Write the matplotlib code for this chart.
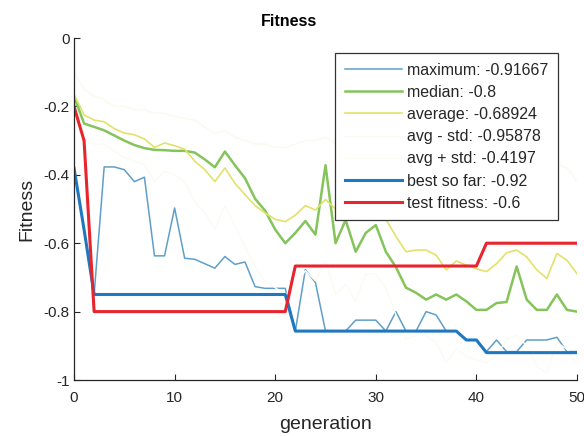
import matplotlib
matplotlib.use('Agg')
import matplotlib.pyplot as plt
import numpy as np

plt.rcParams['font.family'] = ['Liberation Sans', 'DejaVu Sans']

# generation index and per-generation statistics
generation = np.arange(51)

maximum = [-0.38, -0.56, -0.75, -0.377, -0.377, -0.385, -0.42, -0.407, -0.637, -0.637,
           -0.497, -0.644, -0.647, -0.66, -0.673, -0.639, -0.662, -0.655, -0.727, -0.732,
           -0.732, -0.732, -0.857, -0.677, -0.715, -0.857, -0.857, -0.857, -0.825, -0.825,
           -0.825, -0.857, -0.8, -0.857, -0.857, -0.8, -0.81, -0.857, -0.857, -0.883,
           -0.883, -0.917, -0.883, -0.917, -0.917, -0.883, -0.883, -0.883, -0.875, -0.917,
           -0.91667]

median = [-0.17, -0.25, -0.26, -0.27, -0.285, -0.30, -0.313, -0.322, -0.327, -0.328,
          -0.33, -0.33, -0.335, -0.355, -0.378, -0.332, -0.372, -0.41, -0.47, -0.505,
          -0.56, -0.6, -0.57, -0.535, -0.575, -0.372, -0.6, -0.532, -0.625, -0.57,
          -0.547, -0.625, -0.67, -0.73, -0.745, -0.765, -0.75, -0.765, -0.75, -0.77,
          -0.795, -0.795, -0.775, -0.772, -0.668, -0.765, -0.795, -0.795, -0.75, -0.795,
          -0.8]

average = [-0.165, -0.225, -0.24, -0.245, -0.265, -0.278, -0.283, -0.295, -0.32, -0.307,
           -0.315, -0.325, -0.36, -0.385, -0.42, -0.38, -0.425, -0.458, -0.49, -0.512,
           -0.53, -0.537, -0.518, -0.49, -0.503, -0.472, -0.5, -0.48, -0.5, -0.48,
           -0.49, -0.53, -0.58, -0.625, -0.62, -0.62, -0.635, -0.678, -0.652, -0.664,
           -0.675, -0.683, -0.66, -0.628, -0.62, -0.64, -0.678, -0.703, -0.63, -0.65,
           -0.68924]

avg_minus_std = [-0.23, -0.30, -0.31, -0.31, -0.33, -0.35, -0.36, -0.37, -0.42, -0.39,
                 -0.40, -0.42, -0.48, -0.51, -0.56, -0.49, -0.55, -0.61, -0.67, -0.71,
                 -0.73, -0.75, -0.73, -0.68, -0.71, -0.65, -0.75, -0.72, -0.77, -0.69,
                 -0.69, -0.73, -0.81, -0.88, -0.87, -0.87, -0.89, -0.95, -0.91, -0.93,
                 -0.94, -0.95, -0.93, -0.88, -0.87, -0.90, -0.96, -0.98, -0.89, -0.91,
                 -0.95878]

avg_plus_std = [-0.10, -0.15, -0.17, -0.18, -0.20, -0.20, -0.21, -0.21, -0.22, -0.22,
                -0.23, -0.235, -0.24, -0.26, -0.28, -0.27, -0.29, -0.30, -0.31, -0.31,
                -0.32, -0.32, -0.31, -0.30, -0.30, -0.29, -0.31, -0.30, -0.32, -0.31,
                -0.31, -0.33, -0.35, -0.37, -0.37, -0.37, -0.38, -0.41, -0.39, -0.40,
                -0.41, -0.42, -0.40, -0.37, -0.37, -0.39, -0.41, -0.43, -0.37, -0.38,
                -0.4197]

best_so_far = [-0.38, -0.56] + [-0.75] * 20 + [-0.857] * 17 + [-0.883, -0.883] + [-0.92] * 10

test_fitness = [-0.2, -0.3] + [-0.8] * 20 + [-0.6667] * 19 + [-0.6] * 10

labels = ['maximum: -0.91667', 'median: -0.8', 'average: -0.68924',
          'avg - std: -0.95878', 'avg + std: -0.4197',
          'best so far: -0.92', 'test fitness: -0.6']

fig = plt.figure(figsize=(5.84, 4.36), dpi=100)
ax = fig.add_axes([74 / 584, 56 / 436, 503 / 584, 342 / 436])

ax.plot(generation, maximum, color='#5f9fc9', lw=1.1, label=labels[0])
ax.plot(generation, median, color='#84c45a', lw=1.8, label=labels[1])
ax.plot(generation, average, color='#e2e26a', lw=1.2, label=labels[2])
ax.plot(generation, avg_minus_std, color='#fbfbf4', lw=1.0, label=labels[3])
ax.plot(generation, avg_plus_std, color='#fafaee', lw=1.0, label=labels[4])
ax.plot(generation, best_so_far, color='#1f77c0', lw=2.2, label=labels[5])
ax.plot(generation, test_fitness, color='#e8242c', lw=2.2, label=labels[6])

ax.set_xlim(0, 50)
ax.set_ylim(-1, 0)
ax.set_xticks([0, 10, 20, 30, 40, 50])
ax.set_yticks([-1, -0.8, -0.6, -0.4, -0.2, 0])
ax.set_yticklabels(['-1', '-0.8', '-0.6', '-0.4', '-0.2', '0'])

axis_color = '#262626'
for side in ['top', 'right']:
    ax.spines[side].set_visible(False)
for side in ['left', 'bottom']:
    ax.spines[side].set_color(axis_color)
    ax.spines[side].set_linewidth(0.9)
ax.tick_params(direction='in', length=4, width=0.8, colors=axis_color, labelsize=11)
ax.tick_params(axis='x', pad=8)
ax.tick_params(axis='y', pad=3)

ax.set_title('Fitness', fontsize=11.5, fontweight='bold', pad=9, color='black', x=0.427)
ax.set_xlabel('generation', fontsize=14, color=axis_color, labelpad=8)
ax.set_ylabel('Fitness', fontsize=14, color=axis_color, labelpad=6)

leg = ax.legend(loc='upper right', bbox_to_anchor=(0.962, 0.956), fontsize=11.5,
                frameon=True, fancybox=False, framealpha=1, edgecolor='#333333',
                handlelength=3.6, handletextpad=0.3, labelspacing=0.45,
                borderpad=0.6, borderaxespad=0)
leg.get_frame().set_linewidth(0.9)
for t in leg.get_texts():
    t.set_color('#262626')

fig.savefig('out.png', dpi=100)
